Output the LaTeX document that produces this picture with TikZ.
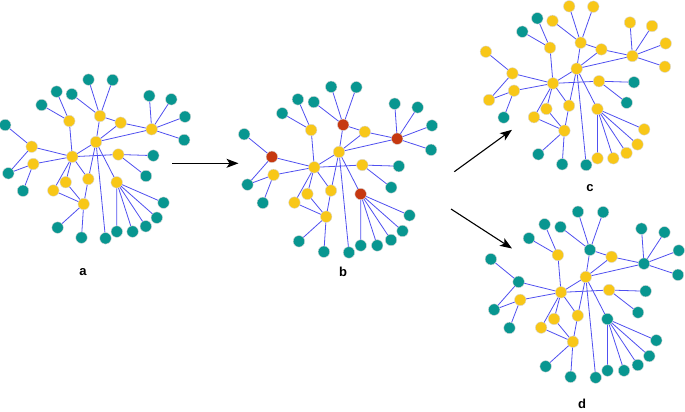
\documentclass[tikz,border=0pt]{standalone}
\usepackage{fontspec}
\setmainfont{Liberation Sans}
\usetikzlibrary{arrows.meta}
\definecolor{nodeyel}{RGB}{248,199,24}
\definecolor{nodeteal}{RGB}{8,150,144}
\definecolor{nodered}{RGB}{198,56,16}
\definecolor{edgeblue}{RGB}{80,80,240}
\tikzset{
  dot/.style={circle, minimum size=11.5pt, inner sep=0pt, draw=black!15, line width=0.4pt},
  edge/.style={draw=edgeblue, line width=0.8pt},
  arr/.style={draw=black, line width=1.1pt, -{Stealth[length=12pt, width=9pt, inset=3pt]}},
  lab/.style={font=\fontsize{13}{15}\selectfont\bfseries, inner sep=0pt}
}
\newcommand\netgraph[3]{%
  \foreach \n/\x/\y in {Y1/72.3/156.7, Y2/96/142, Y4/120.7/122.7, Y6/69.3/121, Y8/33.3/164, Y9/118.3/154.5, Y11/88.3/179, Y12/65.7/182.2, Y13/53.3/190.5, Y14/83.7/204}
    \node[dot, fill=nodeyel] (#1\n) at (\x,\y) {};
  \foreach \n/\x/\y in {Y3/100/116, Y5/151.7/129.3, Y7/31.7/146.7, Y10/116.7/182.3}
    \node[dot, fill=#2] (#1\n) at (\x,\y) {};
  \foreach \n/\x/\y in {T3/56.6/91.6, T5/41.6/105, T12/23/190.8, T13/153.3/155.6, T14/146/176, T20/105.5/238.3, T21/81.5/237.6, T22/57.6/227.6}
    \node[dot, fill=nodeteal] (#1\n) at (\x,\y) {};
  \foreach \n/\x/\y in {T1/88.5/79.6, T2/112.6/80, T4/71.8/94.2, T6/149.3/95.8, T7/171.3/99.3, T8/185/116.7, T9/184.2/140, T10/5.2/125, T11/8.3/173.3, T15/163.5/202.7, T16/156.8/217.7, T17/145.8/226.3, T18/132.6/231.6, T19/116.8/231.6}
    \node[dot, fill=#3] (#1\n) at (\x,\y) {};
  \foreach \a/\b in {Y1/Y2, Y1/Y6, Y1/Y7, Y1/Y8, Y1/Y9, Y1/Y11, Y1/Y12, Y1/Y13,
      Y2/Y3, Y2/Y4, Y2/Y5, Y2/Y11, Y2/Y10, Y2/T20,
      Y3/T1, Y3/T2, Y3/T4, Y3/Y4, Y4/Y5,
      Y5/T6, Y5/T7, Y5/T8, Y5/T9,
      Y6/T3, Y6/T5, Y7/T10, Y7/T11, Y8/T11, Y8/T12,
      Y9/T13, Y9/T14,
      Y10/T15, Y10/T16, Y10/T17, Y10/T18, Y10/T19,
      Y14/Y12, Y14/Y13, Y14/Y11, Y14/T21, Y14/T22}
    \draw[edge] (#1\a) -- (#1\b);
}
\begin{document}
\begin{tikzpicture}[x=1pt, y=-1pt]
  \useasboundingbox[fill=white] (0,0) rectangle (685,412);
  \begin{scope}
    \netgraph{a}{nodeyel}{nodeteal}
  \end{scope}
  \begin{scope}[shift={(238.8,3.7)}, scale=1.044]
    \netgraph{b}{nodered}{nodeteal}
  \end{scope}
  \begin{scope}[shift={(480.7,-73.3)}]
    \netgraph{c}{nodeyel}{nodeyel}
  \end{scope}
  \begin{scope}[shift={(485.45,128.55)}, scale=1.045]
    \netgraph{d}{nodeteal}{nodeteal}
  \end{scope}
  \coordinate (ab1) at (172.3,163.3);
  \coordinate (ab2) at (238.5,163.3);
  \coordinate (bc1) at (454.3,171.7);
  \coordinate (bc2) at (512,129.8);
  \coordinate (bd1) at (451,209);
  \coordinate (bd2) at (512,248.5);
  \draw[arr] (ab1) -- (ab2);
  \draw[arr] (bc1) -- (bc2);
  \draw[arr] (bd1) -- (bd2);
  \node[lab] (la) at (83,272) {a};
  \node[lab] (lb) at (343,272) {b};
  \node[lab] (lc) at (590,188) {c};
  \node[lab] (ld) at (582,404) {d};
\end{tikzpicture}
\end{document}
